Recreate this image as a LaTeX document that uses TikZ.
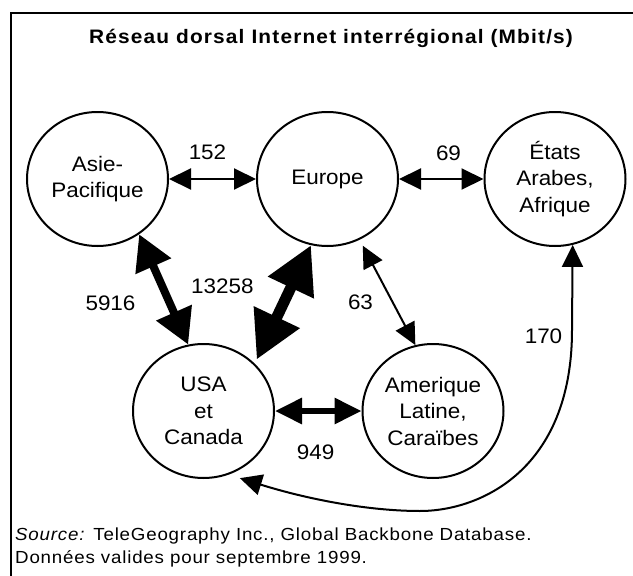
\documentclass[tikz,border=0pt]{standalone}
\usepackage{fontspec}
\setmainfont{Liberation Sans}[FakeStretch=1.07]
\usetikzlibrary{shapes.geometric, arrows.meta}

\begin{document}
\begin{tikzpicture}[x=1pt, y=-1pt,
    every node/.style={font=\fontsize{21}{26.5}\selectfont, inner sep=1pt}]

    \tikzstyle{region}=[ellipse, draw, line width=2pt, minimum width=141pt, minimum height=134pt, inner sep=0pt, align=center]
    \tikzstyle{thinlink}=[line width=2pt, {Triangle[length=22pt,width=21pt]}-{Triangle[length=22pt,width=21pt]}]
    \tikzstyle{midlink}=[line width=6pt, {Triangle[length=27pt,width=25pt]}-{Triangle[length=27pt,width=25pt]}]
    \tikzstyle{widelink}=[line width=8pt, {Triangle[length=35pt,width=37pt]}-{Triangle[length=35pt,width=37pt]}]
    \tikzstyle{hugelink}=[line width=11pt, {Triangle[length=47pt,width=48pt]}-{Triangle[length=47pt,width=48pt]}]
    \tikzstyle{flow}=[anchor=base]
    \tikzstyle{note}=[anchor=base west, font=\fontsize{17.5}{23}\selectfont\addfontfeature{LetterSpace=4.6}]

    \useasboundingbox (0,0) rectangle (633,576);
    \draw[line width=2pt] (10.7,590) -- (10.7,12.7) -- (645,12.7);

    \node[anchor=base, font=\bfseries\fontsize{19.5}{23}\selectfont\addfontfeature{LetterSpace=6}] (title) at (331,43) {Réseau dorsal Internet interrégional (Mbit/s)};

    \node[region] (asie) at (97.5,179) {Asie-\\Pacifique};
    \node[region] (europe) at (327.5,179) {Europe};
    \node[region] (etats) at (555,179) {États\\Arabes,\\Afrique};
    \node[region] (usa) at (203.5,411) {USA\\et\\Canada};
    \node[region] (amerique) at (433,411) {Amerique\\Latine,\\Caraïbes};

    \draw[thinlink] (asie.east) -- (europe.west);
    \draw[thinlink] (europe.east) -- (etats.west);
    \draw[widelink] (asie.-53.5) -- (usa.103.7);
    \draw[hugelink] ([xshift=3pt,yshift=3pt]usa.44) -- (europe.-104.8);
    \draw[thinlink] ([xshift=3pt,yshift=-6pt]europe.-62.2) -- (amerique.105.7);
    \draw[midlink] (usa.east) -- (amerique.west);
    \draw[thinlink] ([xshift=3pt,yshift=-7pt]usa.-61) .. controls (310,500) and (370,511) .. (420,511)
        .. controls (480,511) and (572,470) .. (572,330) -- (etats.-75.8);

    \node[flow] (n152) at (207.5,159) {152};
    \node[flow] (n69) at (448.5,160) {69};
    \node[flow] (n5916) at (110.5,310) {5916};
    \node[flow] (n13258) at (222.4,293) {13258};
    \node[flow] (n63) at (360.5,309) {63};
    \node[flow] (n949) at (315.7,459) {949};
    \node[flow] (n170) at (543.5,343) {170};

    \node[note] (source) at (14,540) {\textit{Source:} TeleGeography Inc., Global Backbone Database.};
    \node[note] (date) at (14,563) {Données valides pour septembre 1999.};

\end{tikzpicture}
\end{document}
